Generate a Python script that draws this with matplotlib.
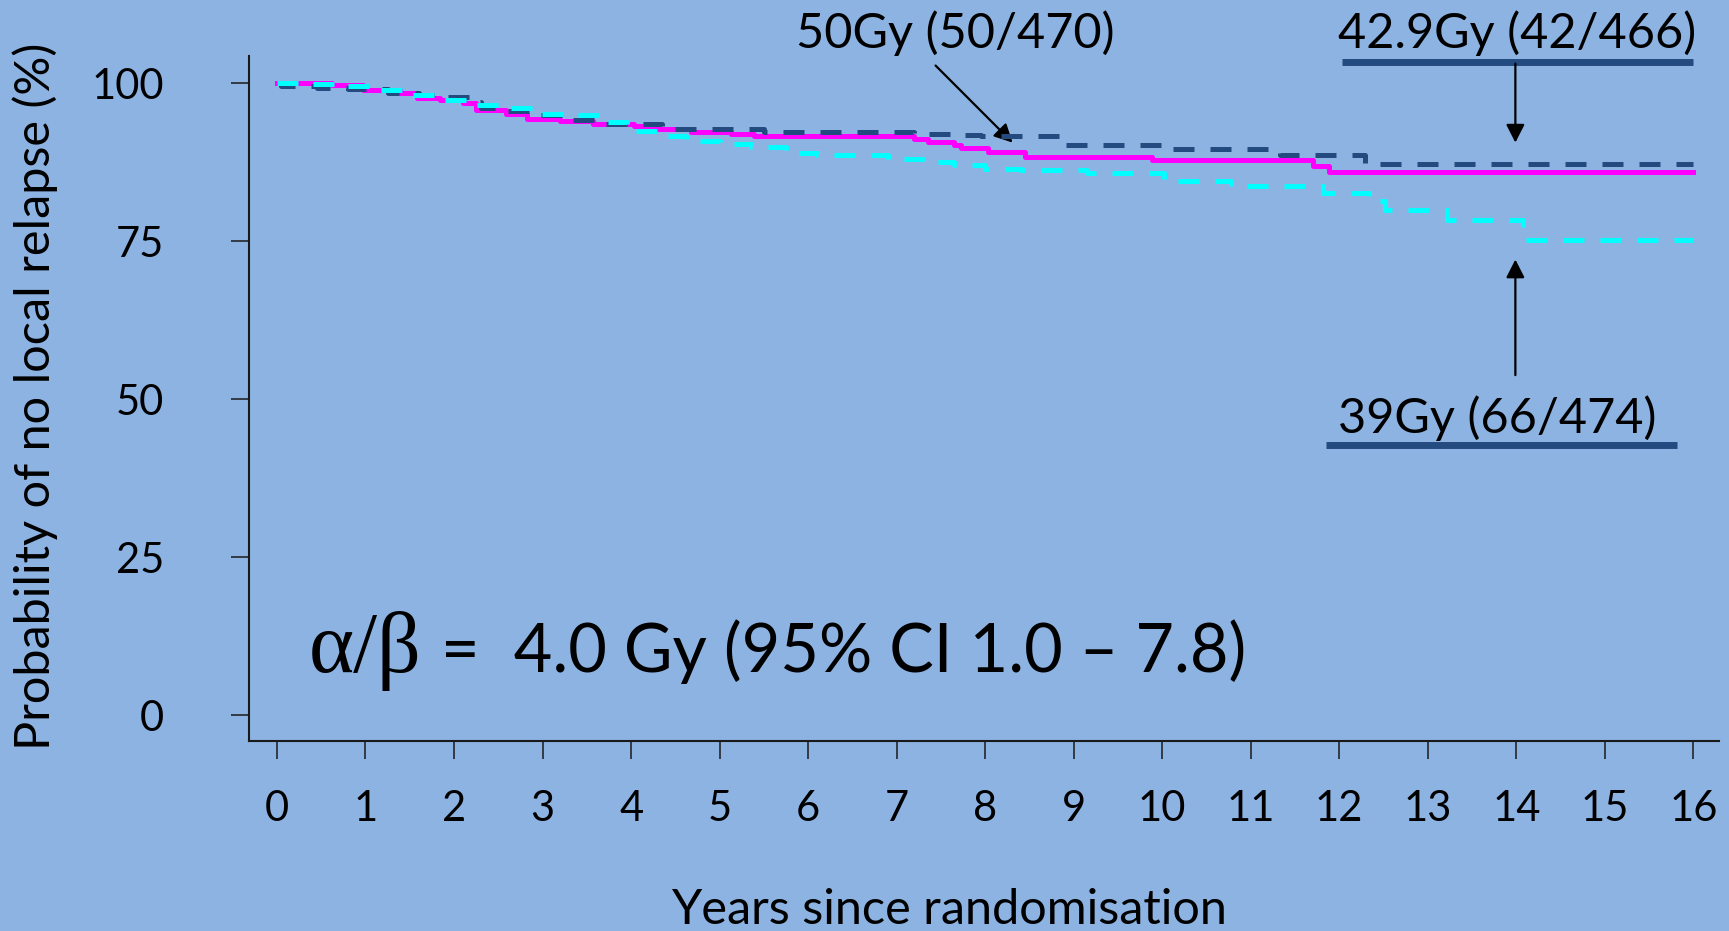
import numpy as np
import matplotlib
matplotlib.use("Agg")
import matplotlib.pyplot as plt

plt.rcParams['font.family'] = ['Lato', 'DejaVu Sans']

# Kaplan-Meier step data: years since randomisation vs % free of local relapse
years_50 = [0, 0.62, 0.97, 1.39, 1.58, 1.84, 2.1, 2.25, 2.59, 2.82, 3.2, 3.57, 4.03,
            4.26, 4.68, 5.13, 5.39, 7.2, 7.35, 7.65, 7.73, 8.03, 8.45, 9.89, 11.70,
            11.89, 16.0]
surv_50 = [100, 99.7, 99.0, 98.4, 97.7, 97.4, 96.8, 95.8, 95.2, 94.4, 94.0, 93.6, 93.2,
           92.7, 92.3, 91.9, 91.6, 91.2, 90.7, 90.2, 89.7, 89.1, 88.3, 87.8, 86.9,
           85.9, 85.9]

years_429 = [0, 0.05, 0.45, 0.8, 1.25, 1.6, 1.9, 2.2, 2.3, 2.6, 2.95, 3.3, 3.7, 4.35,
             5.5, 7.2, 7.6, 7.95, 8.85, 10.0, 11.33, 12.29, 16.0]
surv_429 = [100, 99.5, 99.3, 99.1, 98.5, 98.2, 97.8, 97.0, 96.1, 95.6, 94.9, 94.1, 93.5,
            92.8, 92.3, 92.0, 91.8, 91.6, 90.3, 89.6, 88.7, 87.2, 87.2]

years_39 = [0, 0.37, 0.7, 1.1, 1.45, 1.8, 2.15, 2.5, 2.88, 3.25, 3.62, 3.95, 4.3, 4.62,
            5.0, 5.35, 5.75, 6.1, 6.9, 7.3, 7.65, 8.0, 8.4, 9.15, 10.02, 10.78, 11.82,
            12.34, 12.52, 13.22, 14.08, 16.0]
surv_39 = [100, 99.8, 99.5, 98.9, 98.2, 97.4, 96.5, 96.0, 95.2, 94.9, 93.8, 92.5, 91.7,
           90.9, 90.4, 89.9, 89.0, 88.6, 88.0, 87.5, 87.0, 86.4, 86.2, 85.8, 84.6, 83.8,
           82.6, 81.3, 80.0, 78.3, 75.2, 75.2]

x_ticks = list(range(0, 17))
y_ticks = [0, 25, 50, 75, 100]

bg = '#8DB3E2'
navy = '#244B80'
magenta = '#FF00FF'
cyan = '#00FFFF'

fig = plt.figure(figsize=(17.29, 9.31), dpi=100, facecolor=bg)
ax = fig.add_axes([0.1440, 0.2041, 0.8502, 0.7357])
ax.set_facecolor(bg)

lw = 3.6
ax.plot(years_50, surv_50, drawstyle='steps-post', color=magenta, lw=lw, zorder=3)
ax.plot(years_429, surv_429, drawstyle='steps-post', color=navy, lw=lw,
        dashes=(4.2, 3.2), zorder=4)
ax.plot(years_39, surv_39, drawstyle='steps-post', color=cyan, lw=lw,
        dashes=(4.2, 3.2), zorder=5)

ax.set_xlim(-0.316, 16.29)
ax.set_ylim(-4.1, 104.3)
ax.set_xticks(x_ticks)
ax.set_yticks(y_ticks)

for side in ['top', 'right']:
    ax.spines[side].set_visible(False)
for side in ['left', 'bottom']:
    ax.spines[side].set_linewidth(1.5)
    ax.spines[side].set_color('#1a1a1a')

ax.tick_params(axis='both', direction='out', length=13, width=1.1, color='#1a1a1a',
               labelsize=30)
ax.tick_params(axis='y', pad=48)
ax.tick_params(axis='x', pad=22)

fig.text(0.0202, 1 - 396 / 931, 'Probability of no local relapse (%)', rotation=90,
         ha='center', va='center', fontsize=35)
fig.text(0.549, 0.007, 'Years since randomisation', ha='center', va='baseline',
         fontsize=35)

# group labels with underline bars and arrows
ax.text(7.66, 105.5, '50Gy (50/470)', ha='center', va='baseline', fontsize=35,
        clip_on=False)
ax.text(14.01, 105.5, '42.9Gy (42/466)', ha='center', va='baseline', fontsize=35,
        clip_on=False)
ax.text(13.79, 44.6, '39Gy (66/474)', ha='center', va='baseline', fontsize=35)

ax.plot([12.03, 16.0], [103.4, 103.4], color=navy, lw=5, solid_capstyle='butt',
        clip_on=False)
ax.plot([11.85, 15.82], [42.7, 42.7], color=navy, lw=5, solid_capstyle='butt')

arrow = dict(arrowstyle='-|>,head_length=0.55,head_width=0.28', mutation_scale=20,
             lw=1.6, color='black', shrinkA=0, shrinkB=0)
ax.annotate('', xy=(8.31, 90.6), xytext=(7.44, 102.8), arrowprops=arrow,
            annotation_clip=False)
ax.annotate('', xy=(13.99, 90.6), xytext=(13.99, 103.1), arrowprops=arrow,
            annotation_clip=False)
ax.annotate('', xy=(13.99, 72.1), xytext=(13.99, 53.8), arrowprops=arrow)

ax.text(0.36, 6.8, 'α/β', ha='left', va='baseline', fontsize=62,
        family='Liberation Serif')
ax.text(1.85, 6.8, '=  4.0 Gy (95% CI 1.0 – 7.8)', ha='left', va='baseline',
        fontsize=48)

fig.savefig('out.png', dpi=100, facecolor=bg)
